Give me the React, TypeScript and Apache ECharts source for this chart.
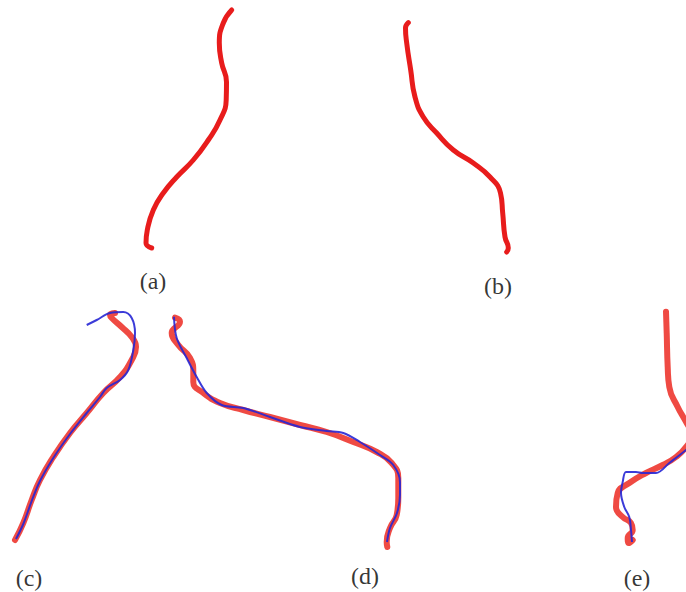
import React, { useEffect, useRef } from "react";
import * as echarts from "echarts";

// Curve traces, in figure coordinates (x right, y down)
const curveA: [number, number][] = [
  [231.7, 10], [223.3, 23], [219.3, 43], [221.7, 63], [226.5, 82], [226.2, 100],
  [220, 120], [208.3, 140], [193.3, 160], [176.7, 177], [163.3, 193], [153.3, 210],
  [147.3, 230], [146, 243], [151.7, 248],
];
const curveB: [number, number][] = [
  [408.3, 22.7], [405.5, 28], [406.7, 43], [410.7, 70], [415, 97], [423.3, 117],
  [436.7, 133], [453.3, 150], [473.3, 163], [490, 177], [500.5, 193], [502.7, 213],
  [505, 237], [508.3, 248], [506.7, 252],
];
const curveCRed: [number, number][] = [
  [15, 540], [23.3, 523], [31.7, 500], [40, 480], [53.3, 457], [70, 433],
  [86.7, 413], [103.3, 393], [120, 377], [131.7, 360], [136, 347], [131.7, 337],
  [121.7, 327], [111.7, 318], [110, 315], [115, 313],
];
const curveCBlue: [number, number][] = [
  [86.7, 325], [96.7, 320], [110, 313], [123.3, 312], [131.7, 318], [135, 333],
  [133.3, 350], [128.3, 370], [120, 380], [106.7, 388], [100, 397], [86.7, 413],
  [70, 434], [53.3, 458], [40, 481], [31.7, 501], [23.3, 524], [16, 539],
];
const curveDRed: [number, number][] = [
  [175, 317.7], [180, 321.7], [171.7, 333], [178.3, 345], [190, 358], [193.3, 372],
  [193.3, 382], [203.3, 393], [220, 403], [243.3, 410], [270, 417], [300, 425],
  [326.7, 432], [353.3, 442], [376.7, 452], [391.7, 463], [398.3, 478], [398.3, 498],
  [396.7, 515], [390, 528], [386.7, 542], [387.3, 547],
];
const curveDBlue: [number, number][] = [
  [174, 316.7], [176.7, 338], [186.7, 358], [196.7, 377], [206.7, 393], [221.7, 405],
  [243.3, 408], [270, 417], [300, 427], [326.7, 431], [343.3, 433], [360, 442],
  [380, 455], [393.3, 465], [400, 482], [400, 495], [397, 513], [390, 528],
  [387, 542],
];
const curveERed: [number, number][] = [
  [666, 311.7], [666.7, 333], [667.7, 367], [669.3, 387], [677.7, 407], [686, 422],
  [692, 435], [686, 447], [676, 457], [662.7, 465], [646, 473], [629.3, 483],
  [617.7, 493], [616, 507], [622.7, 517], [631, 523], [632.7, 530], [627.7, 538],
  [628.7, 543], [632.7, 540],
];
const curveEBlue: [number, number][] = [
  [692, 444], [686, 450], [669.3, 463], [656, 473], [642.7, 473], [636, 472],
  [626, 472], [622.7, 482], [621, 493], [624.3, 507], [629.3, 517], [631, 530],
  [632, 542],
];
const panelLabels: string[] = ["(a)", "(b)", "(c)", "(d)", "(e)"];
const labelAnchors: [number, number][] = [
  [153, 281], [498, 286], [29, 578], [365, 576], [637, 578],
];

const RED = "#e81c1c";
const RED_SOFT = "rgba(236,42,34,0.85)";
const BLUE = "#2626d4";

export default function App() {
  const ref = useRef<HTMLDivElement>(null);
  useEffect(() => {
    if (!ref.current) return;
    const chart = echarts.init(ref.current, undefined, { renderer: "svg" });
    const redLine = (data: [number, number][], color: string, width: number) => ({
      type: "line",
      data,
      smooth: 0.5,
      showSymbol: false,
      symbol: "none",
      clip: true,
      lineStyle: { color, width, cap: "round", join: "round" },
      z: 2,
    });
    const blueLine = (data: [number, number][]) => ({
      type: "line",
      data,
      smooth: 0.35,
      showSymbol: false,
      symbol: "none",
      clip: true,
      lineStyle: { color: BLUE, width: 2, opacity: 0.9 },
      z: 3,
    });
    chart.setOption({
      animation: false,
      backgroundColor: "#ffffff",
      grid: { left: 0, top: 0, width: 686, height: 592 },
      xAxis: { type: "value", min: 0, max: 686, show: false },
      yAxis: { type: "value", min: 0, max: 592, inverse: true, show: false },
      series: [
        redLine(curveA, RED, 5),
        redLine(curveB, RED, 5),
        redLine(curveCRed, RED_SOFT, 6),
        blueLine(curveCBlue),
        redLine(curveDRed, RED_SOFT, 6),
        blueLine(curveDBlue),
        redLine(curveERed, RED_SOFT, 6),
        blueLine(curveEBlue),
        {
          type: "scatter",
          data: labelAnchors.map((p, i) => ({ value: p, name: panelLabels[i] })),
          symbolSize: 0,
          itemStyle: { color: "transparent" },
          label: {
            show: true,
            position: "inside",
            formatter: (p: any) => p.name,
            color: "#000",
            fontFamily: "Liberation Serif",
            fontSize: 24,
          },
          z: 5,
        },
      ],
    });
    return () => chart.dispose();
  }, []);
  return (
    <div
      ref={ref}
      style={{ position: "fixed", left: 0, top: 0, width: 686, height: 592, background: "#fff" }}
    />
  );
}
